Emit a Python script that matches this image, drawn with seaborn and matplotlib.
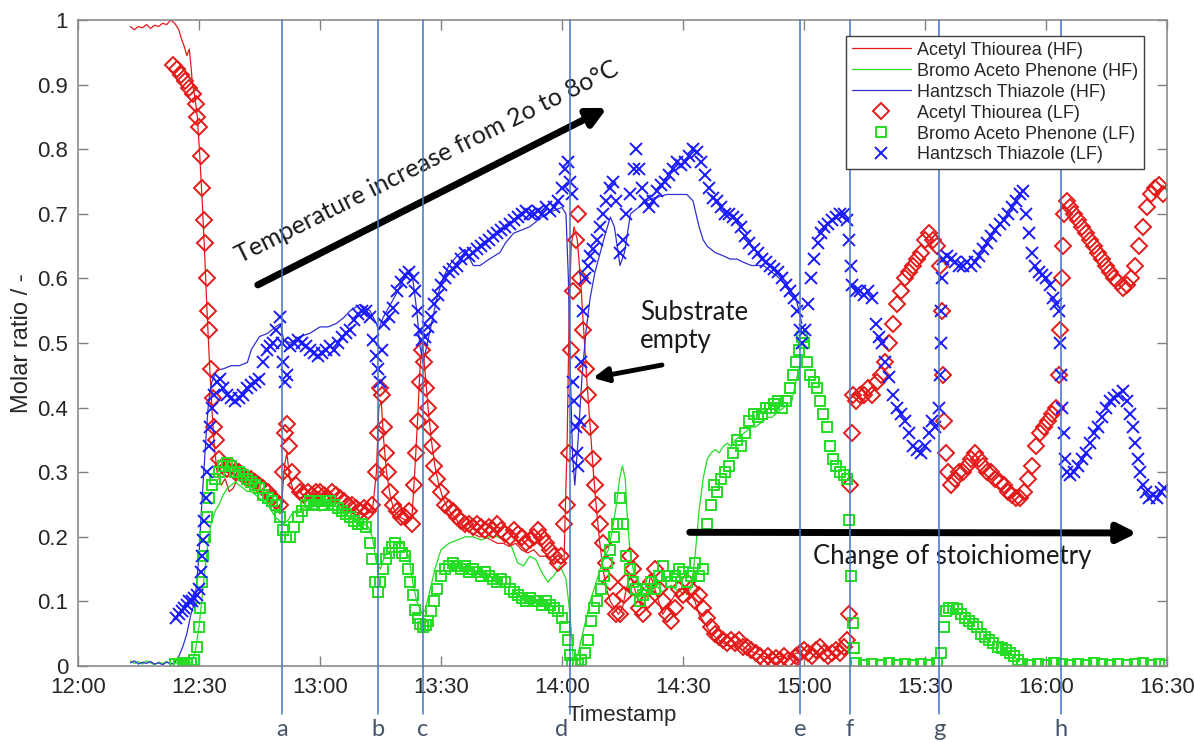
import matplotlib
matplotlib.use("Agg")
import matplotlib.pyplot as plt
import seaborn as sns

# time in minutes after 12:00
hf_at_t = [13, 14, 15, 16, 17, 18, 19, 20, 21, 22, 23, 24, 25, 25.7, 26.3, 27, 27.6, 28, 28.4, 29, 29.6,
           30.2, 30.8, 31.4, 32, 32.6, 33.2, 33.8, 34.5, 35.5, 36.5, 37.5, 38.5, 39.5, 40.5, 41.5, 42.5,
           43.5, 44.5, 45.5, 46.5, 47.5, 48.5, 49.5, 50.5, 51.2, 51.8, 52.5, 53.5, 55, 56.5, 58, 59.5, 61,
           62.5, 64, 65.5, 67, 68.5, 70, 71.5, 73, 74, 74.6, 75.2, 75.8, 76.5, 77.5, 78.5, 80, 81.5, 82.8,
           83.5, 84.2, 84.8, 85.4, 86, 86.8, 87.6, 88.5, 89.5, 90.5, 92, 93.5, 95, 96.5, 98, 99.5, 101,
           102.5, 104, 105.5, 107, 108.5, 110, 111.5, 113, 114.5, 116, 117.5, 119, 120.5, 121.3, 121.8,
           122.3, 123, 123.8, 124.6, 125.4, 126.2, 127, 127.8, 128.6, 129.4, 130.2, 131, 132, 133, 134,
           135, 136, 137, 138, 139, 140, 141, 142, 143, 144, 145, 146, 147, 148, 149, 150, 151, 152, 153,
           154, 155, 156, 157, 158, 159, 160, 162, 164, 166, 168, 170, 172, 174, 176, 178, 179.5]
hf_at_y = [0.99, 0.985, 0.99, 0.988, 0.993, 0.987, 0.992, 0.99, 0.995, 0.993, 1.0, 0.995, 0.985, 0.97,
           0.96, 0.945, 0.955, 0.93, 0.90, 0.88, 0.85, 0.79, 0.72, 0.64, 0.55, 0.47, 0.40, 0.34, 0.30,
           0.28, 0.29, 0.27, 0.275, 0.29, 0.285, 0.29, 0.30, 0.28, 0.275, 0.27, 0.265, 0.255, 0.25, 0.24,
           0.25, 0.31, 0.33, 0.29, 0.27, 0.26, 0.265, 0.26, 0.27, 0.265, 0.26, 0.26, 0.25, 0.245, 0.24,
           0.235, 0.235, 0.24, 0.30, 0.40, 0.41, 0.35, 0.30, 0.26, 0.24, 0.23, 0.225, 0.23, 0.30, 0.38,
           0.46, 0.50, 0.46, 0.40, 0.35, 0.31, 0.28, 0.26, 0.24, 0.23, 0.215, 0.21, 0.205, 0.20, 0.20,
           0.195, 0.19, 0.19, 0.185, 0.19, 0.18, 0.175, 0.18, 0.17, 0.17, 0.165, 0.16, 0.16, 0.35, 0.55,
           0.65, 0.68, 0.66, 0.60, 0.52, 0.44, 0.37, 0.30, 0.24, 0.19, 0.15, 0.12, 0.10, 0.09, 0.08, 0.09,
           0.12, 0.14, 0.12, 0.10, 0.09, 0.11, 0.14, 0.12, 0.10, 0.08, 0.09, 0.10, 0.11, 0.12, 0.11, 0.12,
           0.11, 0.10, 0.08, 0.07, 0.06, 0.05, 0.045, 0.04, 0.035, 0.03, 0.035, 0.025, 0.02, 0.015, 0.012,
           0.015, 0.01, 0.02, 0.02]

hf_bap_t = [13, 14, 15, 16, 17, 18, 19, 20, 21, 22, 23, 24, 25, 26, 27, 28, 29, 30, 31, 32, 33, 34, 35,
            36, 37, 38, 39, 40, 41, 42, 43, 44, 45, 46, 47, 48, 49, 50, 51, 52, 53, 54, 56, 58, 60, 62,
            64, 66, 68, 70, 72, 73, 74, 75, 76, 77.5, 79, 80.5, 82, 83, 84, 85, 86, 87, 88.5, 90, 92, 94,
            96, 98, 100, 102, 104, 106, 107.5, 109, 110.5, 112, 113.5, 115, 116.5, 118, 119.5, 121, 122,
            122.8, 124, 125.5, 127, 128.5, 130, 131.5, 132.5, 133.5, 134.3, 135, 135.7, 136.3, 137, 138,
            139, 140, 141, 142, 143, 144, 145, 146, 147, 148, 149, 150, 151, 152, 153, 154, 155, 156, 157,
            158, 159, 160, 161, 162, 163, 164, 165, 166, 167, 168, 169, 170, 171, 172, 173, 174, 175, 176,
            177, 178, 179.5]
hf_bap_y = [0.008, 0.004, 0.007, 0.003, 0.008, 0.005, 0.002, 0.006, 0.004, 0.007, 0.003, 0.005, 0.004,
            0.002, 0.003, 0.005, 0.02, 0.06, 0.12, 0.18, 0.22, 0.24, 0.25, 0.265, 0.275, 0.28, 0.285, 0.28,
            0.275, 0.27, 0.27, 0.265, 0.26, 0.255, 0.25, 0.24, 0.23, 0.225, 0.22, 0.225, 0.235, 0.24, 0.245,
            0.245, 0.24, 0.245, 0.24, 0.235, 0.23, 0.225, 0.215, 0.2, 0.16, 0.15, 0.17, 0.18, 0.19, 0.19,
            0.17, 0.13, 0.1, 0.085, 0.085, 0.11, 0.15, 0.18, 0.19, 0.195, 0.2, 0.2, 0.195, 0.2, 0.2, 0.195,
            0.185, 0.16, 0.155, 0.17, 0.165, 0.145, 0.13, 0.14, 0.155, 0.135, 0.08, 0.01, 0.02, 0.06, 0.1,
            0.13, 0.16, 0.18, 0.21, 0.25, 0.29, 0.31, 0.29, 0.22, 0.17, 0.14, 0.13, 0.12, 0.115, 0.12, 0.13,
            0.12, 0.115, 0.12, 0.125, 0.12, 0.115, 0.12, 0.11, 0.12, 0.17, 0.24, 0.29, 0.32, 0.33, 0.335,
            0.33, 0.34, 0.345, 0.34, 0.35, 0.355, 0.36, 0.365, 0.37, 0.37, 0.375, 0.38, 0.385, 0.385, 0.39,
            0.395, 0.40, 0.405, 0.41, 0.44, 0.48]

hf_ht_t = [13, 14, 15, 16, 17, 18, 19, 20, 21, 22, 23, 24, 25, 26, 27, 28, 29, 30, 30.6, 31.2, 31.8,
           32.4, 33.2, 34.4, 36, 38, 40, 42, 43, 45, 47, 49, 50.2, 51, 52.6, 55, 57.5, 60, 62, 64, 66,
           67.5, 70, 72.4, 74, 74.5, 75.7, 77.5, 79, 81.5, 83, 84, 84.8, 85.6, 86.8, 88, 89, 90.5, 92, 94,
           96, 98, 99.7, 102, 104.6, 106, 108, 110, 112, 114, 116, 118, 120, 121, 121.6, 122.1, 122.6,
           123.2, 124, 125, 126, 127, 128.2, 129.5, 130.8, 132, 133, 134.4, 135.5, 137, 139, 141, 143,
           146, 149, 151, 152.5, 154, 155, 156, 158, 160, 161.7, 163.4, 165, 167, 170, 172, 174, 176, 178,
           179.5]
hf_ht_y = [0.005, 0.008, 0.003, 0.006, 0.004, 0.007, 0.003, 0.005, 0.002, 0.006, 0.003, 0.005, 0.015,
           0.03, 0.05, 0.08, 0.1, 0.17, 0.24, 0.3, 0.36, 0.41, 0.44, 0.458, 0.46, 0.465, 0.465, 0.47, 0.49,
           0.51, 0.515, 0.525, 0.53, 0.505, 0.50, 0.51, 0.515, 0.525, 0.525, 0.53, 0.54, 0.55, 0.56, 0.55,
           0.53, 0.52, 0.54, 0.56, 0.577, 0.61, 0.60, 0.55, 0.495, 0.47, 0.505, 0.54, 0.57, 0.60, 0.62,
           0.635, 0.645, 0.62, 0.62, 0.63, 0.64, 0.655, 0.67, 0.675, 0.68, 0.69, 0.70, 0.705, 0.71, 0.70,
           0.60, 0.45, 0.33, 0.28, 0.35, 0.45, 0.52, 0.57, 0.61, 0.64, 0.67, 0.695, 0.68, 0.62, 0.64, 0.70,
           0.71, 0.72, 0.725, 0.73, 0.73, 0.73, 0.72, 0.68, 0.66, 0.65, 0.64, 0.635, 0.63, 0.63, 0.625,
           0.62, 0.62, 0.61, 0.60, 0.585, 0.57, 0.53]

lf_at_t = [23.5, 24.5, 25.5, 26.5, 27.5, 28.5, 29.2, 29.6, 30.0, 30.4, 30.8, 31.2, 31.5, 31.9, 32.3, 32.6,
           33.0, 33.4, 33.8, 34.3, 35, 36, 37, 38, 39, 40, 41, 42, 43, 44, 45, 46, 47, 48, 49, 50, 50.8,
           51.3, 51.8, 52.3, 53, 54, 55, 56, 57, 58, 59, 60, 61, 62, 63, 64, 65, 66, 67, 68, 69, 70, 71,
           72, 73, 73.8, 74.3, 74.8, 75.3, 75.8, 76.3, 76.8, 77.4, 78, 79, 80, 81, 82, 82.8, 83.3, 83.8,
           84.3, 84.8, 85.3, 85.8, 86.3, 86.8, 87.3, 87.8, 88.4, 89, 90, 91, 92, 93, 94, 95, 96, 97, 98,
           99, 100, 101, 102, 103, 104, 105, 106, 107, 108, 109, 110, 111, 112, 113, 114, 115, 116, 117,
           118, 119, 119.8, 120.5, 121.2, 121.8, 122.3, 122.8, 123.4, 124, 124.6, 125.3, 126, 126.5, 127,
           127.6, 128.2, 128.8, 129.5, 130.3, 131, 131.8, 132.6, 133.5, 134.5, 135.3, 136, 136.8, 137.6,
           138.3, 139, 140, 141, 142, 143, 144, 145, 146, 147, 148, 149, 150, 151, 152, 153, 154, 155,
           156, 157, 158, 159, 160, 161, 162, 163, 164, 165, 166, 167, 168, 169, 170, 171, 172, 173, 174,
           175, 176, 177, 178, 179, 180, 181, 182, 183, 184, 185, 186, 187, 188, 189, 190, 190.8, 191.2,
           191.5, 191.8, 192.2, 193, 194, 195, 196, 197, 198, 199, 200, 201, 202, 203, 204, 205, 206, 207,
           208, 209, 210, 211, 212, 213, 213.8, 214.2, 214.5, 214.8, 215.2, 215.8, 216.5, 217.5, 218.5,
           219.5, 220.5, 221.5, 222.5, 223.5, 224.5, 225.5, 226.5, 227.5, 228.5, 229.5, 230.5, 231.5,
           232.5, 233.5, 234.5, 235.5, 236.5, 237.5, 238.5, 239.5, 240.5, 241.5, 242.5, 243.3, 243.6,
           243.9, 244.2, 244.6, 245.2, 246, 247, 248, 249, 250, 251, 252, 253, 254, 255, 256, 257, 258,
           259, 260, 261, 262, 263, 264, 265, 266, 267, 268, 269]
lf_at_y = [0.93, 0.925, 0.915, 0.905, 0.895, 0.885, 0.87, 0.85, 0.835, 0.79, 0.74, 0.69, 0.655, 0.60,
           0.55, 0.52, 0.46, 0.415, 0.37, 0.35, 0.32, 0.31, 0.305, 0.31, 0.30, 0.30, 0.295, 0.29, 0.29,
           0.285, 0.28, 0.275, 0.27, 0.26, 0.255, 0.25, 0.30, 0.36, 0.375, 0.34, 0.30, 0.28, 0.27, 0.265,
           0.27, 0.265, 0.27, 0.27, 0.265, 0.26, 0.27, 0.265, 0.26, 0.255, 0.25, 0.25, 0.245, 0.24, 0.245,
           0.24, 0.25, 0.30, 0.36, 0.43, 0.42, 0.37, 0.33, 0.30, 0.27, 0.25, 0.24, 0.23, 0.23, 0.24, 0.22,
           0.28, 0.33, 0.38, 0.44, 0.49, 0.47, 0.43, 0.40, 0.37, 0.34, 0.31, 0.29, 0.27, 0.25, 0.245, 0.24,
           0.23, 0.225, 0.22, 0.22, 0.215, 0.22, 0.215, 0.21, 0.215, 0.21, 0.22, 0.21, 0.205, 0.20, 0.21,
           0.205, 0.20, 0.19, 0.195, 0.20, 0.21, 0.20, 0.19, 0.18, 0.17, 0.16, 0.17, 0.22, 0.25, 0.33,
           0.49, 0.58, 0.66, 0.70, 0.60, 0.52, 0.46, 0.42, 0.37, 0.32, 0.28, 0.25, 0.22, 0.19, 0.16, 0.13,
           0.10, 0.08, 0.08, 0.11, 0.13, 0.17, 0.15, 0.12, 0.09, 0.08, 0.10, 0.13, 0.15, 0.12, 0.10, 0.08,
           0.07, 0.09, 0.12, 0.11, 0.13, 0.12, 0.10, 0.11, 0.09, 0.075, 0.06, 0.05, 0.045, 0.04, 0.035,
           0.04, 0.035, 0.04, 0.03, 0.03, 0.025, 0.02, 0.015, 0.01, 0.015, 0.01, 0.012, 0.01, 0.015, 0.01,
           0.005, 0.015, 0.02, 0.025, 0.02, 0.015, 0.025, 0.03, 0.02, 0.015, 0.02, 0.025, 0.02, 0.03,
           0.04, 0.08, 0.28, 0.36, 0.42, 0.41, 0.42, 0.42, 0.43, 0.42, 0.44, 0.45, 0.47, 0.50, 0.53, 0.56,
           0.58, 0.60, 0.61, 0.62, 0.63, 0.64, 0.66, 0.67, 0.66, 0.65, 0.62, 0.55, 0.45, 0.38, 0.33, 0.30,
           0.28, 0.29, 0.30, 0.30, 0.31, 0.32, 0.33, 0.32, 0.31, 0.30, 0.30, 0.29, 0.285, 0.28, 0.27, 0.265,
           0.26, 0.26, 0.27, 0.29, 0.31, 0.34, 0.36, 0.37, 0.38, 0.39, 0.40, 0.45, 0.52, 0.60, 0.65, 0.70,
           0.72, 0.71, 0.70, 0.69, 0.68, 0.67, 0.66, 0.65, 0.64, 0.63, 0.62, 0.61, 0.60, 0.595, 0.585, 0.59,
           0.60, 0.62, 0.65, 0.68, 0.71, 0.73, 0.74, 0.745, 0.73]

lf_bap_t = [24, 25, 26, 27, 28, 28.8, 29.4, 29.9, 30.3, 30.7, 31.1, 31.5, 32, 32.6, 33.3, 34, 35, 36, 37,
            38, 39, 40, 41, 42, 43, 44, 45, 46, 47, 48, 49, 50, 50.8, 51.6, 52.6, 53.5, 54.5, 55.5, 56.5,
            57.5, 58.5, 59.5, 60.5, 61.5, 62.5, 63.5, 64.5, 65.5, 66.5, 67.5, 68.5, 69.5, 70.5, 71.5, 72.3,
            72.9, 73.6, 74.3, 74.9, 75.6, 76.3, 77, 77.8, 78.6, 79.5, 80.3, 81.1, 81.8, 82.4, 83, 83.6, 84.2,
            84.8, 85.5, 86.2, 86.9, 87.6, 88.3, 89.1, 90, 91, 92, 93, 94, 95, 96, 97, 98, 99, 100, 101, 102,
            103, 104, 105, 106, 107, 108, 109, 110, 111, 112, 113, 114, 115, 116, 117, 118, 119, 120, 120.8,
            121.4, 122, 122.6, 123.2, 124, 124.8, 125.7, 126.5, 127.2, 128, 128.8, 129.6, 130.4, 131.2, 132,
            132.8, 133.6, 134.4, 135.2, 136, 136.8, 137.6, 138.4, 139.3, 140.2, 141, 142, 143, 144, 145, 146,
            147, 148, 149, 150, 151, 152, 153, 154, 155, 156, 157, 157.6, 158.5, 159.5, 160.5, 161.5, 162.5,
            163.5, 164.5, 165.5, 166.5, 167.5, 168.5, 169.5, 170.5, 171.5, 172.5, 173.5, 174.5, 175.5,
            176.5, 177.3, 178, 178.7, 179.4, 180.1, 180.8, 181.6, 182.4, 183.2, 184, 184.8, 185.6, 186.4,
            187.2, 188, 189, 190, 190.8, 191.3, 191.7, 192.1, 192.5, 193, 195, 197, 199, 201, 203, 205, 207,
            209, 211, 213, 214, 214.7, 215.3, 216, 217, 218, 219, 220, 221, 222, 223, 224, 225, 226, 227,
            228, 229, 230, 231, 232, 233, 234, 236, 238, 240, 242, 244, 246, 248, 250, 252, 254, 256, 258,
            260, 262, 264, 266, 268, 269.5]
lf_bap_y = [0.003, 0.002, 0.004, 0.003, 0.005, 0.01, 0.03, 0.06, 0.09, 0.13, 0.17, 0.20, 0.23, 0.26, 0.28,
            0.29, 0.30, 0.31, 0.315, 0.31, 0.30, 0.30, 0.295, 0.29, 0.285, 0.28, 0.275, 0.265, 0.26, 0.255,
            0.25, 0.23, 0.21, 0.20, 0.20, 0.215, 0.23, 0.24, 0.25, 0.255, 0.25, 0.255, 0.25, 0.255, 0.255,
            0.25, 0.245, 0.24, 0.235, 0.23, 0.225, 0.22, 0.22, 0.215, 0.19, 0.165, 0.13, 0.115, 0.13, 0.15,
            0.165, 0.175, 0.185, 0.19, 0.185, 0.175, 0.17, 0.15, 0.13, 0.11, 0.087, 0.075, 0.065, 0.06,
            0.063, 0.07, 0.085, 0.10, 0.12, 0.14, 0.15, 0.155, 0.16, 0.155, 0.15, 0.155, 0.145, 0.15, 0.145,
            0.14, 0.145, 0.14, 0.135, 0.13, 0.135, 0.13, 0.12, 0.115, 0.11, 0.105, 0.10, 0.105, 0.10, 0.10,
            0.095, 0.10, 0.095, 0.09, 0.085, 0.075, 0.06, 0.04, 0.017, 0.005, 0.002, 0.003, 0.01, 0.02, 0.04,
            0.07, 0.09, 0.10, 0.12, 0.14, 0.16, 0.18, 0.20, 0.22, 0.26, 0.22, 0.17, 0.15, 0.13, 0.12, 0.10,
            0.11, 0.12, 0.13, 0.12, 0.14, 0.155, 0.14, 0.13, 0.14, 0.15, 0.145, 0.13, 0.14, 0.16, 0.14, 0.15,
            0.22, 0.25, 0.28, 0.27, 0.29, 0.30, 0.31, 0.33, 0.35, 0.34, 0.36, 0.38, 0.39, 0.385, 0.39, 0.40,
            0.40, 0.405, 0.41, 0.40, 0.41, 0.43, 0.45, 0.47, 0.49, 0.51, 0.50, 0.47, 0.45, 0.44, 0.43, 0.41,
            0.39, 0.37, 0.34, 0.32, 0.31, 0.30, 0.295, 0.29, 0.226, 0.14, 0.067, 0.028, 0.005, 0.002, 0.003,
            0.002, 0.004, 0.002, 0.003, 0.002, 0.003, 0.002, 0.004, 0.02, 0.06, 0.085, 0.09, 0.09,
            0.088, 0.08, 0.075, 0.07, 0.065, 0.06, 0.05, 0.045, 0.04, 0.035, 0.03, 0.028, 0.025, 0.02, 0.015,
            0.01, 0.003, 0.002, 0.003, 0.002, 0.004, 0.003, 0.002, 0.003, 0.002, 0.004, 0.003, 0.002, 0.003,
            0.002, 0.003, 0.004, 0.002, 0.003, 0.002]

lf_ht_t = [24.3, 25, 25.7, 26.4, 27, 27.6, 28.2, 28.8, 29.4, 30, 30.4, 30.7, 31, 31.3, 31.7, 32, 32.4,
           32.8, 33.3, 33.8, 34.4, 35.2, 36, 37, 38, 39, 40, 41, 42, 43, 44, 45, 46, 46.8, 47.5, 48.3,
           49.2, 50, 50.6, 50.9, 51.3, 51.8, 52.6, 53.5, 54.5, 55.5, 56.5, 57.5, 58.5, 59.5, 60.5, 61.5,
           62.5, 63.5, 64.5, 65.5, 66.5, 67.5, 68.5, 69.5, 70.5, 71.5, 72.4, 73.2, 73.8, 74.4, 74.9, 75.4,
           76, 77, 78, 79, 80, 81, 82, 83, 83.6, 84.2, 84.8, 85.4, 86, 86.8, 87.6, 88.4, 89.2, 90, 91, 92,
           93, 94, 95, 96, 97, 98, 99, 100, 101, 102, 103, 104, 105, 106, 107, 108, 109, 110, 111, 112,
           113, 114, 115, 116, 117, 118, 119, 120, 120.8, 121.5, 122, 122.4, 122.8, 123.1, 123.4, 123.7,
           124, 124.4, 124.8, 125.3, 125.8, 126.4, 127, 127.7, 128.6, 129.5, 130.3, 131, 131.8, 132.7,
           133.5, 134.4, 135.2, 136, 137, 137.8, 138.4, 139, 139.8, 140.6, 141.5, 142.5, 143.5, 144.5,
           145.5, 146.5, 147.5, 148.5, 149.5, 150.5, 151.5, 152.5, 153.5, 154.5, 155.5, 156.5, 157.5,
           158.5, 159.5, 160.5, 161.5, 162.5, 163.5, 164.5, 165.5, 166.5, 167.5, 168.5, 169.5, 170.5,
           171.5, 172.5, 173.5, 174.5, 175.5, 176.5, 177.5, 178.3, 179, 179.6, 180.2, 181, 181.8, 182.6,
           183.4, 184.2, 185, 186, 187, 188, 189, 190, 190.8, 191.2, 191.6, 192, 193, 194, 195, 196, 197,
           197.8, 198.5, 199.3, 200.2, 201, 202, 203, 204, 205, 206, 207, 208, 209, 210, 211, 211.8,
           212.6, 213.4, 213.7, 213.9, 214.1, 214.3, 214.6, 215.5, 216.5, 217.5, 218.5, 219.5, 220.5,
           221.5, 222.5, 223.5, 224.5, 225.5, 226.5, 227.5, 228.5, 229.5, 230.5, 231.5, 232.5, 233.5,
           234.4, 235, 235.8, 236.6, 237.4, 238.2, 239, 240, 241, 241.8, 242.6, 243.2, 243.5, 243.8,
           244.1, 244.4, 244.8, 245.3, 246, 247, 248, 249, 250, 251, 252, 253, 254, 255, 256, 257, 258,
           259, 260, 260.8, 261.5, 262.2, 262.8, 263.4, 264, 264.7, 265.5, 266.5, 267.5, 268.5, 269.2]
lf_ht_y = [0.075, 0.08, 0.085, 0.09, 0.095, 0.10, 0.10, 0.105, 0.11, 0.12, 0.145, 0.17, 0.195, 0.225,
           0.26, 0.30, 0.34, 0.37, 0.40, 0.42, 0.44, 0.445, 0.43, 0.42, 0.415, 0.41, 0.415, 0.42, 0.43,
           0.435, 0.44, 0.445, 0.47, 0.49, 0.495, 0.50, 0.52, 0.54, 0.50, 0.47, 0.44, 0.45, 0.495, 0.50,
           0.505, 0.50, 0.495, 0.49, 0.485, 0.48, 0.485, 0.49, 0.495, 0.49, 0.50, 0.51, 0.515, 0.52, 0.535,
           0.545, 0.55, 0.55, 0.54, 0.505, 0.48, 0.46, 0.44, 0.49, 0.53, 0.54, 0.555, 0.58, 0.595, 0.605,
           0.61, 0.60, 0.58, 0.55, 0.52, 0.505, 0.51, 0.525, 0.54, 0.56, 0.575, 0.59, 0.60, 0.61, 0.615,
           0.62, 0.63, 0.64, 0.635, 0.64, 0.645, 0.65, 0.655, 0.66, 0.665, 0.67, 0.675, 0.68, 0.685, 0.69,
           0.695, 0.70, 0.705, 0.70, 0.70, 0.705, 0.70, 0.71, 0.705, 0.71, 0.72, 0.74, 0.77, 0.78, 0.75,
           0.73, 0.44, 0.41, 0.37, 0.33, 0.31, 0.38, 0.47, 0.55, 0.60, 0.62, 0.635, 0.645, 0.66, 0.68, 0.70,
           0.72, 0.74, 0.75, 0.72, 0.64, 0.66, 0.70, 0.73, 0.77, 0.80, 0.77, 0.74, 0.72, 0.71, 0.72, 0.735,
           0.745, 0.75, 0.76, 0.77, 0.78, 0.775, 0.78, 0.79, 0.80, 0.795, 0.78, 0.76, 0.74, 0.725, 0.72,
           0.71, 0.70, 0.70, 0.695, 0.69, 0.68, 0.665, 0.655, 0.645, 0.64, 0.63, 0.625, 0.62, 0.615, 0.61,
           0.60, 0.59, 0.58, 0.57, 0.55, 0.52, 0.50, 0.52, 0.56, 0.60, 0.63, 0.655, 0.67, 0.68, 0.685,
           0.69, 0.695, 0.70, 0.70, 0.69, 0.66, 0.62, 0.59, 0.58, 0.58, 0.575, 0.58, 0.57, 0.53, 0.51,
           0.50, 0.47, 0.447, 0.42, 0.40, 0.39, 0.38, 0.36, 0.34, 0.335, 0.33, 0.34, 0.36, 0.38, 0.37,
           0.40, 0.45, 0.50, 0.55, 0.60, 0.63, 0.635, 0.63, 0.625, 0.62, 0.62, 0.625, 0.62, 0.625, 0.635,
           0.645, 0.655, 0.665, 0.675, 0.685, 0.69, 0.70, 0.71, 0.72, 0.73, 0.735, 0.70, 0.67, 0.64, 0.62,
           0.61, 0.605, 0.60, 0.59, 0.57, 0.56, 0.55, 0.50, 0.45, 0.40, 0.36, 0.32, 0.30, 0.295, 0.30,
           0.31, 0.32, 0.33, 0.345, 0.36, 0.37, 0.385, 0.40, 0.41, 0.415, 0.42, 0.425, 0.41, 0.39, 0.37,
           0.345, 0.32, 0.30, 0.28, 0.27, 0.26, 0.265, 0.26, 0.27, 0.275]

event_t = [50.6, 74.4, 85.5, 122.0, 179.1, 191.4, 213.6, 243.7]
event_names = ["a", "b", "c", "d", "e", "f", "g", "h"]

tick_t = [0, 30, 60, 90, 120, 150, 180, 210, 240, 270]
tick_names = ["12:00", "12:30", "13:00", "13:30", "14:00", "14:30", "15:00", "15:30", "16:00", "16:30"]

sns.set_theme(style="white")
plt.rcParams["font.family"] = ["Liberation Sans", "DejaVu Sans"]

fig = plt.figure(figsize=(11.94, 7.43), dpi=100)
ax = fig.add_axes([0.0653, 0.1036, 0.912, 0.8694])

red, green, blue = "#e41a1a", "#22dd22", "#1a1aff"

sns.lineplot(x=hf_at_t, y=hf_at_y, ax=ax, color=red, lw=0.9, estimator=None, sort=False,
             label="Acetyl Thiourea (HF)")
sns.lineplot(x=hf_bap_t, y=hf_bap_y, ax=ax, color=green, lw=0.9, estimator=None, sort=False,
             label="Bromo Aceto Phenone (HF)")
sns.lineplot(x=hf_ht_t, y=hf_ht_y, ax=ax, color="#3030d0", lw=0.9, estimator=None, sort=False,
             label="Hantzsch Thiazole (HF)")
sns.lineplot(x=lf_at_t, y=lf_at_y, ax=ax, color=red, ls="none", marker="D", ms=8, mfc="none",
             mec=red, mew=1.4, estimator=None, sort=False, label="Acetyl Thiourea (LF)")
sns.lineplot(x=lf_bap_t, y=lf_bap_y, ax=ax, color=green, ls="none", marker="s", ms=7, mfc="none",
             mec=green, mew=1.4, estimator=None, sort=False, label="Bromo Aceto Phenone (LF)")
sns.lineplot(x=lf_ht_t, y=lf_ht_y, ax=ax, color=blue, ls="none", marker="x", ms=8, mec=blue, mew=1.4,
             estimator=None, sort=False, label="Hantzsch Thiazole (LF)")

ax.set_xlim(0, 270)
ax.set_ylim(0, 1)
ax.set_xticks(tick_t)
ax.set_xticklabels(tick_names)
ax.set_yticks([i / 10 for i in range(11)])
ax.set_yticklabels(["0"] + [f"0.{i}" for i in range(1, 10)] + ["1"])
ax.tick_params(direction="in", length=7, width=1, color="#808080", labelsize=16,
               labelcolor="#262626", top=True, right=True, bottom=True, left=True)
ax.tick_params(axis="x", pad=8)
ax.tick_params(axis="y", pad=7)
for sp in ax.spines.values():
    sp.set_color("#8c8c8c")
    sp.set_linewidth(1.2)

ax.set_ylabel("Molar ratio / -", fontsize=17, color="#262626")
ax.yaxis.set_label_coords(-0.041, 0.5)
ax.set_xlabel("Timestamp", fontsize=16, color="#262626")
ax.xaxis.set_label_coords(0.5, -0.060)

leg = ax.legend(loc="upper right", bbox_to_anchor=(0.979, 0.975), borderaxespad=0, fontsize=13,
                frameon=True, fancybox=False, framealpha=1, edgecolor="#404040",
                handlelength=3.3, handletextpad=0.35, labelspacing=0.22, borderpad=0.3)
leg.get_frame().set_linewidth(1.0)

# event markers a-h (label "d" sits a little left of its line, as in the original)
xt = ax.get_xaxis_transform()
for t, name in zip(event_t, event_names):
    ax.plot([t, t], [-0.0743, 1.0], transform=xt, color="#4472c4", lw=1.1, clip_on=False, zorder=5)
    lx = t - 2.2 if name == "d" else t
    ax.text(lx, -0.099, name, transform=xt, ha="center", va="center", fontsize=17,
            color="#44546a", family="Lato")

# annotations
note = dict(family="Lato", color="#1a1a1a")
ax.annotate("", xy=(131.2, 0.864), xytext=(44.6, 0.590),
            arrowprops=dict(arrowstyle="-|>", color="black", lw=5, mutation_scale=28,
                            shrinkA=0, shrinkB=0))
ax.text(40.2, 0.624, "Temperature increase from 2o to 8o°C", rotation=26.5, rotation_mode="anchor",
        ha="left", va="baseline", fontsize=18, **note)
ax.annotate("", xy=(127.7, 0.446), xytext=(144.8, 0.466),
            arrowprops=dict(arrowstyle="-|>", color="black", lw=3.5, mutation_scale=22,
                            shrinkA=0, shrinkB=0))
ax.text(139.4, 0.525, "Substrate\nempty", ha="left", va="center", fontsize=18.5, linespacing=1.15,
        **note)
ax.annotate("", xy=(262.6, 0.206), xytext=(151.7, 0.207),
            arrowprops=dict(arrowstyle="-|>", color="black", lw=5, mutation_scale=28,
                            shrinkA=0, shrinkB=0))
ax.text(182.2, 0.169, "Change of stoichiometry", ha="left", va="center", fontsize=18.5, **note)

fig.savefig("out.png", dpi=100)
